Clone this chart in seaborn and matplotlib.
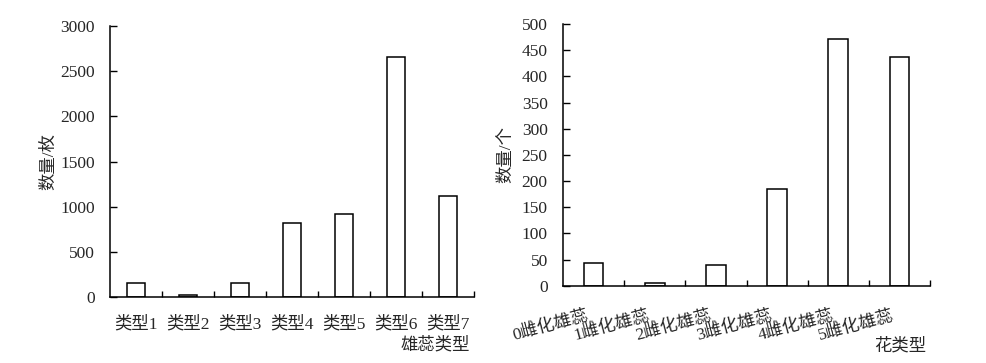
import numpy as np
import pandas as pd
import matplotlib
matplotlib.use("Agg")
import matplotlib.pyplot as plt
import seaborn as sns
from matplotlib.ticker import FixedLocator
from matplotlib.transforms import ScaledTranslation

# ---- data ----
left_categories = ["类型1", "类型2", "类型3", "类型4", "类型5", "类型6", "类型7"]
left_values = [160, 25, 160, 822, 919, 2653, 1115]
left_yticks = [0, 500, 1000, 1500, 2000, 2500, 3000]

right_categories = ["0雌化雄蕊", "1雌化雄蕊", "2雌化雄蕊", "3雌化雄蕊", "4雌化雄蕊", "5雌化雄蕊"]
right_values = [43, 5, 40, 185, 471, 437]
right_yticks = [0, 50, 100, 150, 200, 250, 300, 350, 400, 450, 500]

sns.set_theme(style="white")
plt.rcParams['font.family'] = ['Liberation Serif', 'Noto Sans CJK SC']
plt.rcParams['axes.unicode_minus'] = False

fig = plt.figure(figsize=(9.86, 3.63), dpi=100)
axL = fig.add_axes([110/986, 1-297/363, 364/986, 271/363])
axR = fig.add_axes([563/986, 1-285.7/363, 367/986, 261.7/363])

FS = 12.5

def style(ax, cats, vals, yticks, width):
    df = pd.DataFrame({"cat": cats, "val": vals})
    sns.barplot(data=df, x="cat", y="val", ax=ax, color="white",
                edgecolor="black", linewidth=1.1, width=width, saturation=1)
    ax.set_xlim(-0.5, len(cats) - 0.5)
    ax.set_ylim(yticks[0], yticks[-1])
    ax.set_yticks(yticks)
    for s in ["top", "right"]:
        ax.spines[s].set_visible(False)
    for s in ["left", "bottom"]:
        ax.spines[s].set_color("black")
        ax.spines[s].set_linewidth(1.1)
    ax.tick_params(axis="y", which="major", direction="in", length=5, width=1.0,
                   color="black", labelsize=FS, pad=11, left=True)
    ax.tick_params(axis="x", which="major", length=0, labelsize=FS)
    ax.xaxis.set_minor_locator(FixedLocator(np.arange(0.5, len(cats), 1.0)))
    ax.tick_params(axis="x", which="minor", direction="in", length=4, width=1.0,
                   color="black", bottom=True)
    ax.set_xlabel("")
    ax.set_ylabel("")

style(axL, left_categories, left_values, left_yticks, 0.33)
style(axR, right_categories, right_values, right_yticks, 0.32)

axL.tick_params(axis="x", which="major", pad=14)
axR.tick_params(axis="x", which="major", pad=16)
shift = ScaledTranslation(-7/100, 0, fig.dpi_scale_trans)
for lab in axR.get_xticklabels():
    lab.set_rotation(15)
    lab.set_ha("right")
    lab.set_rotation_mode("anchor")
    lab.set_transform(lab.get_transform() + shift)

axL.set_ylabel("数量/枚", fontsize=FS)
axL.yaxis.set_label_coords(-0.146, 0.5)
axL.set_xlabel("雄蕊类型", fontsize=FS)
axL.xaxis.set_label_coords(0.893, -0.148)

axR.set_ylabel("数量/个", fontsize=FS)
axR.yaxis.set_label_coords(-0.134, 0.5)
axR.set_xlabel("花类型", fontsize=FS)
axR.xaxis.set_label_coords(0.918, -0.2)

fig.savefig("out.png", dpi=100, facecolor="white")
